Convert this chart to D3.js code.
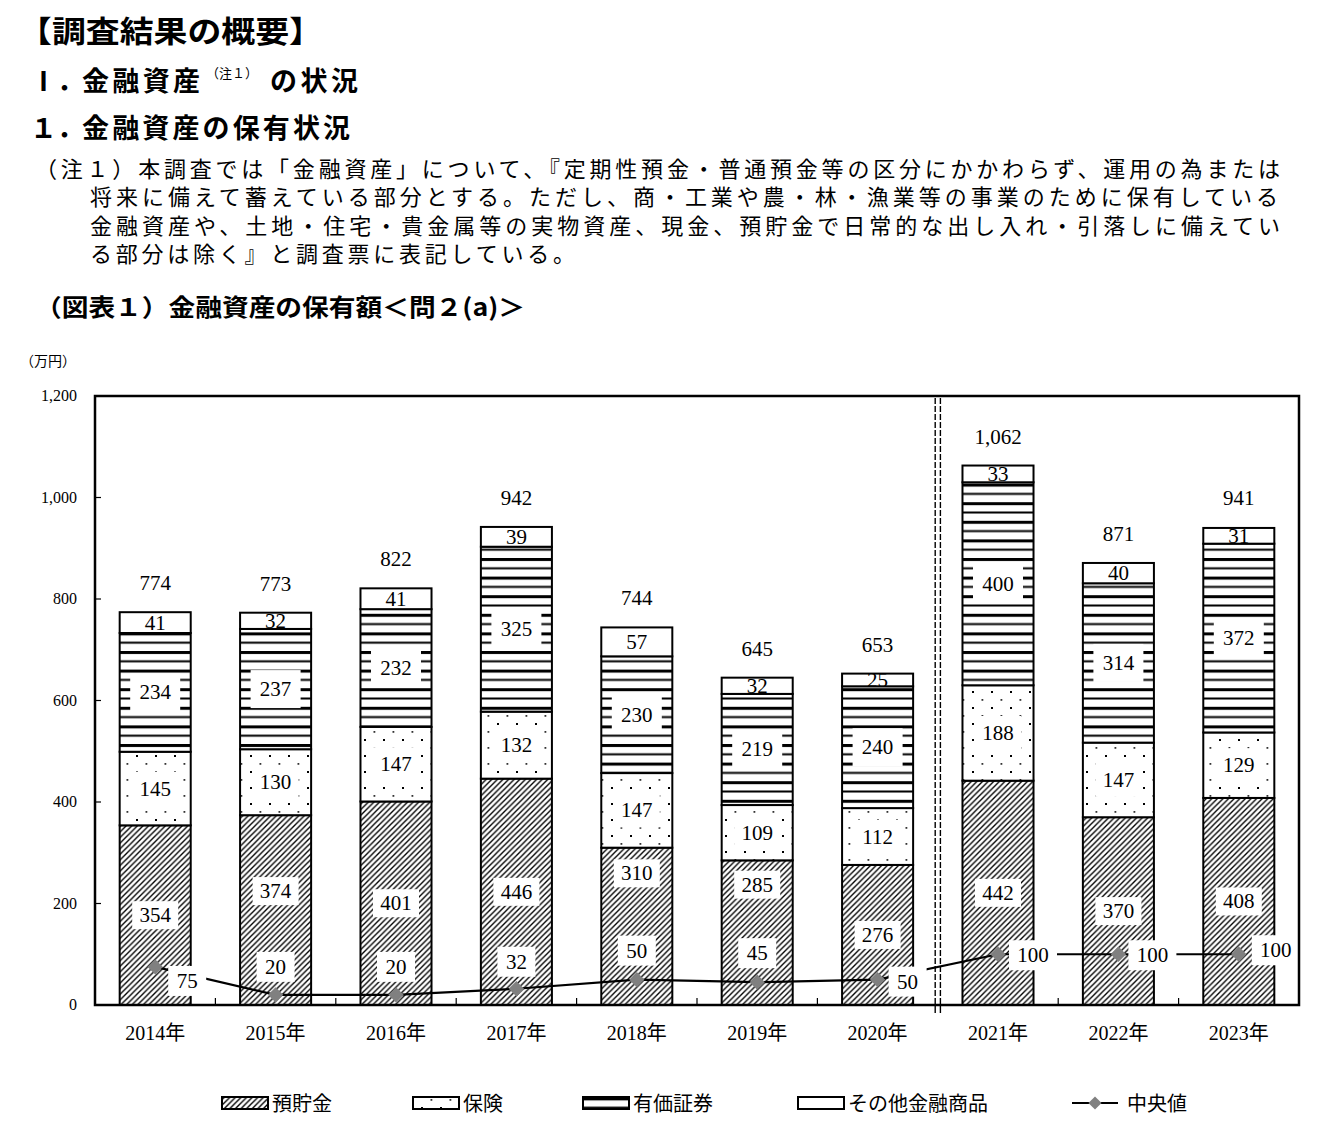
<!DOCTYPE html>
<html>
<head>
<meta charset="utf-8">
<script src="https://cdn.jsdelivr.net/npm/d3@7/dist/d3.min.js"></script>
<style>
  body { margin: 0; background: #fff; }
  svg text { fill: #000; }
</style>
</head>
<body>
<div id="chart"></div>
<script>
// ---------------- data ----------------
const years = ["2014年", "2015年", "2016年", "2017年", "2018年", "2019年", "2020年", "2021年", "2022年", "2023年"];
const deposits   = [354, 374, 401, 446, 310, 285, 276, 442, 370, 408];
const insurance  = [145, 130, 147, 132, 147, 109, 112, 188, 147, 129];
const securities = [234, 237, 232, 325, 230, 219, 240, 400, 314, 372];
const others     = [41, 32, 41, 39, 57, 32, 25, 33, 40, 31];
const totals     = [774, 773, 822, 942, 744, 645, 653, 1062, 871, 941];
const medians    = [75, 20, 20, 32, 50, 45, 50, 100, 100, 100];
const yTicks     = [0, 200, 400, 600, 800, 1000, 1200];
const seriesKeys  = ["deposits", "insurance", "securities", "others"];
const seriesNames = ["預貯金", "保険", "有価証券", "その他金融商品"];
const medianName  = "中央値";

const noteLines = [
    "（注１）本調査では「金融資産」について、『定期性預金・普通預金等の区分にかかわらず、運用の為または",
    "将来に備えて蓄えている部分とする。ただし、商・工業や農・林・漁業等の事業のために保有している",
    "金融資産や、土地・住宅・貴金属等の実物資産、現金、預貯金で日常的な出し入れ・引落しに備えてい",
    "る部分は除く』と調査票に表記している。"
];

// ---------------- layout ----------------
const W = 1327, H = 1132;
const plot = { left: 95, right: 1299, top: 396, bottom: 1005 };
const JP = "'Noto Sans CJK JP', 'Noto Sans', sans-serif";
const NUM = "'Liberation Serif', 'DejaVu Serif', serif";

// where each median label sits relative to its point
const medianNudge = [[32, 14], [0, -28], [0, -28], [0, -27], [0, -29], [0, -29], [30, 2], [35, 1], [34, 1], [37, -4]];
// deposit labels pushed up where the median label would collide
const depositNudge = [0, -19, 0, 0, -53, -48, 0, 0, 0, 0];

const svg = d3.select("#chart")
    .append("svg")
    .attr("width", W)
    .attr("height", H);

//------------------ header text -----------------------
const head = svg.append("g").attr("font-family", JP);

head.append("text")
    .attr("x", 18).attr("y", 42)
    .attr("font-size", 30).attr("font-weight", 700)
    .attr("textLength", 305).attr("lengthAdjust", "spacingAndGlyphs")
    .text("【調査結果の概要】");

head.append("text").attr("x", 30).attr("y", 91)
    .attr("font-size", 27).attr("font-weight", 700).text("Ⅰ．");
head.append("text").attr("x", 82).attr("y", 91)
    .attr("font-size", 27).attr("font-weight", 700)
    .attr("textLength", 118).text("金融資産");
head.append("text").attr("x", 206).attr("y", 78)
    .attr("font-size", 13).text("（注１）");
head.append("text").attr("x", 270).attr("y", 91)
    .attr("font-size", 27).attr("font-weight", 700)
    .attr("textLength", 88).text("の状況");

head.append("text").attr("x", 30).attr("y", 138)
    .attr("font-size", 27).attr("font-weight", 700).text("１．");
head.append("text").attr("x", 82).attr("y", 138)
    .attr("font-size", 27).attr("font-weight", 700)
    .attr("textLength", 268).text("金融資産の保有状況");

const noteX = [35, 90, 90, 90];
const noteW = [1245, 1188, 1190, 485];
head.selectAll("text.note")
    .data(noteLines)
    .join("text")
    .attr("class", "note")
    .attr("x", (d, i) => noteX[i])
    .attr("y", (d, i) => 177 + i * 28.3)
    .attr("font-size", 22)
    .attr("textLength", (d, i) => noteW[i])
    .attr("lengthAdjust", "spacing")
    .text(d => d);

head.append("text")
    .attr("x", 35).attr("y", 316)
    .attr("font-size", 24).attr("font-weight", 700)
    .attr("textLength", 490).attr("lengthAdjust", "spacingAndGlyphs")
    .text("（図表１）金融資産の保有額＜問２(a)＞");

head.append("text")
    .attr("x", 20).attr("y", 366)
    .attr("font-size", 14)
    .text("（万円）");

//------------------ patterns -----------------------
const defs = svg.append("defs");

const hatch = defs.append("pattern")
    .attr("id", "p-deposits")
    .attr("patternUnits", "userSpaceOnUse")
    .attr("width", 5.6).attr("height", 5.6);
hatch.append("rect").attr("width", 5.6).attr("height", 5.6).attr("fill", "#fff");
hatch.append("path")
    .attr("d", "M0,5.6 L5.6,0 M-1.5,1.5 L1.5,-1.5 M4.1,7.1 L7.1,4.1")
    .attr("stroke", "#000").attr("stroke-width", 1.35);

const dots = defs.append("pattern")
    .attr("id", "p-insurance")
    .attr("patternUnits", "userSpaceOnUse")
    .attr("width", 19).attr("height", 16);
dots.append("rect").attr("width", 19).attr("height", 16).attr("fill", "#fff");
dots.append("rect").attr("x", 3).attr("y", 3).attr("width", 2).attr("height", 2).attr("fill", "#000");
dots.append("rect").attr("x", 12.5).attr("y", 11).attr("width", 1.8).attr("height", 1.8).attr("fill", "#333");

const stripes = defs.append("pattern")
    .attr("id", "p-securities")
    .attr("patternUnits", "userSpaceOnUse")
    .attr("width", 10).attr("height", 18.6);
stripes.append("rect").attr("width", 10).attr("height", 18.6).attr("fill", "#fff");
stripes.append("rect").attr("y", 0).attr("width", 10).attr("height", 3).attr("fill", "#000");
stripes.append("rect").attr("y", 9.3).attr("width", 10).attr("height", 2).attr("fill", "#000");

const fills = {
    deposits: "url(#p-deposits)",
    insurance: "url(#p-insurance)",
    securities: "url(#p-securities)",
    others: "#fff"
};

//------------------ scales -----------------------
const x = d3.scaleBand()
    .domain(years)
    .range([plot.left, plot.right])
    .paddingInner(0.41)
    .paddingOuter(0.205);

const y = d3.scaleLinear()
    .domain([0, 1200])
    .range([plot.bottom, plot.top]);

const rows = years.map((yr, i) => ({
    year: yr,
    deposits: deposits[i],
    insurance: insurance[i],
    securities: securities[i],
    others: others[i]
}));
const stacked = d3.stack().keys(seriesKeys)(rows);

//------------------ bars -----------------------
const bars = svg.append("g");
stacked.forEach(layer => {
    bars.append("g")
        .selectAll("rect")
        .data(layer)
        .join("rect")
        .attr("x", d => x(d.data.year))
        .attr("y", d => y(d[1]))
        .attr("width", x.bandwidth())
        .attr("height", d => y(d[0]) - y(d[1]))
        .attr("fill", fills[layer.key])
        .attr("stroke", "#000")
        .attr("stroke-width", 2);
});

// segment labels with white boxes
const boxSize = { deposits: [46, 28], insurance: [46, 34], securities: [50, 38] };
const segLabels = svg.append("g").attr("font-family", NUM).attr("font-size", 21);
stacked.forEach(layer => {
    const g = segLabels.append("g");
    layer.forEach((d, i) => {
        const cx = x(d.data.year) + x.bandwidth() / 2;
        const cy = y((d[0] + d[1]) / 2) + (layer.key === "deposits" ? depositNudge[i] : 0);
        if (boxSize[layer.key]) {
            const [bw, bh] = boxSize[layer.key];
            g.append("rect")
                .attr("x", cx - bw / 2).attr("y", cy - bh / 2)
                .attr("width", bw).attr("height", bh)
                .attr("fill", "#fff");
        }
        g.append("text")
            .attr("x", cx).attr("y", cy + 7)
            .attr("text-anchor", "middle")
            .text(d.data[layer.key]);
    });
});

// totals above bars
svg.append("g")
    .attr("font-family", NUM).attr("font-size", 21)
    .selectAll("text")
    .data(totals)
    .join("text")
    .attr("x", (d, i) => x(years[i]) + x.bandwidth() / 2)
    .attr("y", (d, i) => y(totals[i]) - 22)
    .attr("text-anchor", "middle")
    .text(d => d3.format(",")(d));

//------------------ median line -----------------------
const mx = i => x(years[i]) + x.bandwidth() / 2;
const line = d3.line()
    .x((d, i) => mx(i))
    .y(d => y(d));

svg.append("path")
    .datum(medians)
    .attr("d", line)
    .attr("fill", "none")
    .attr("stroke", "#000")
    .attr("stroke-width", 2.2);

const medLab = svg.append("g").attr("font-family", NUM).attr("font-size", 21);
medians.forEach((m, i) => {
    const lx = mx(i) + medianNudge[i][0];
    const ly = y(m) + medianNudge[i][1];
    const bw = String(m).length > 2 ? 48 : 38;
    medLab.append("rect")
        .attr("x", lx - bw / 2).attr("y", ly - 15)
        .attr("width", bw).attr("height", 30)
        .attr("fill", "#fff");
    medLab.append("text")
        .attr("x", lx).attr("y", ly + 7)
        .attr("text-anchor", "middle")
        .text(m);
});

const diamond = d3.symbol().type(d3.symbolDiamond2).size(150);
svg.append("g")
    .selectAll("path")
    .data(medians)
    .join("path")
    .attr("d", diamond)
    .attr("transform", (d, i) => `translate(${mx(i)},${y(d)})`)
    .attr("fill", "#808080");

//------------------ frame, ticks, axes -----------------------
svg.append("rect")
    .attr("x", plot.left).attr("y", plot.top)
    .attr("width", plot.right - plot.left)
    .attr("height", plot.bottom - plot.top)
    .attr("fill", "none")
    .attr("stroke", "#000")
    .attr("stroke-width", 2.5);

// y ticks (inside) + labels
svg.append("g")
    .selectAll("line")
    .data(yTicks.slice(1, -1))
    .join("line")
    .attr("x1", plot.left).attr("x2", plot.left + 6)
    .attr("y1", d => y(d)).attr("y2", d => y(d))
    .attr("stroke", "#000").attr("stroke-width", 1.2);

svg.append("g")
    .attr("font-family", NUM).attr("font-size", 16)
    .selectAll("text")
    .data(yTicks)
    .join("text")
    .attr("x", 77)
    .attr("y", d => y(d) + 5)
    .attr("text-anchor", "end")
    .text(d => d3.format(",")(d));

// x ticks between categories (inside)
const bounds = years.slice(1).map(yr => x(yr) - x.step() * x.paddingInner() / 2);
const split = bounds[6];
svg.append("g")
    .selectAll("line")
    .data(bounds.filter((b, i) => i !== 6))
    .join("line")
    .attr("x1", d => d).attr("x2", d => d)
    .attr("y1", plot.bottom).attr("y2", plot.bottom - 7)
    .attr("stroke", "#000").attr("stroke-width", 1.2);

// x labels
svg.append("g")
    .attr("font-size", 20)
    .selectAll("text")
    .data(years)
    .join("text")
    .attr("x", d => x(d) + x.bandwidth() / 2)
    .attr("y", 1040)
    .attr("text-anchor", "middle")
    .each(function (d) {
        const t = d3.select(this);
        t.append("tspan").attr("font-family", NUM).text(d.slice(0, 4));
        t.append("tspan").attr("font-family", JP).text(d.slice(4));
    });

// double dashed divider between 2020 and 2021
[-2.6, 2.6].forEach(dx => {
    svg.append("line")
        .attr("x1", split + dx).attr("x2", split + dx)
        .attr("y1", plot.top + 2).attr("y2", plot.bottom)
        .attr("stroke", "#000").attr("stroke-width", 1.4)
        .attr("stroke-dasharray", "6,2");
    svg.append("line")
        .attr("x1", split + dx).attr("x2", split + dx)
        .attr("y1", plot.bottom).attr("y2", plot.bottom + 8)
        .attr("stroke", "#000").attr("stroke-width", 1.4);
});

//------------------ legend -----------------------
const legend = svg.append("g").attr("font-family", JP).attr("font-size", 20);
const swatchX = [222, 413, 583, 798];
const legendY = 1103;
seriesKeys.forEach((k, i) => {
    legend.append("rect")
        .attr("x", swatchX[i]).attr("y", legendY - 6)
        .attr("width", 46).attr("height", 12)
        .attr("fill", fills[k])
        .attr("stroke", "#000").attr("stroke-width", 2);
    legend.append("text")
        .attr("x", swatchX[i] + 50).attr("y", legendY + 8)
        .text(seriesNames[i]);
});
legend.append("line")
    .attr("x1", 1072).attr("x2", 1118)
    .attr("y1", legendY).attr("y2", legendY)
    .attr("stroke", "#000").attr("stroke-width", 2);
legend.append("path")
    .attr("d", d3.symbol().type(d3.symbolDiamond2).size(110))
    .attr("transform", `translate(1095,${legendY})`)
    .attr("fill", "#808080");
legend.append("text")
    .attr("x", 1127).attr("y", legendY + 8)
    .text(medianName);
</script>
</body>
</html>
